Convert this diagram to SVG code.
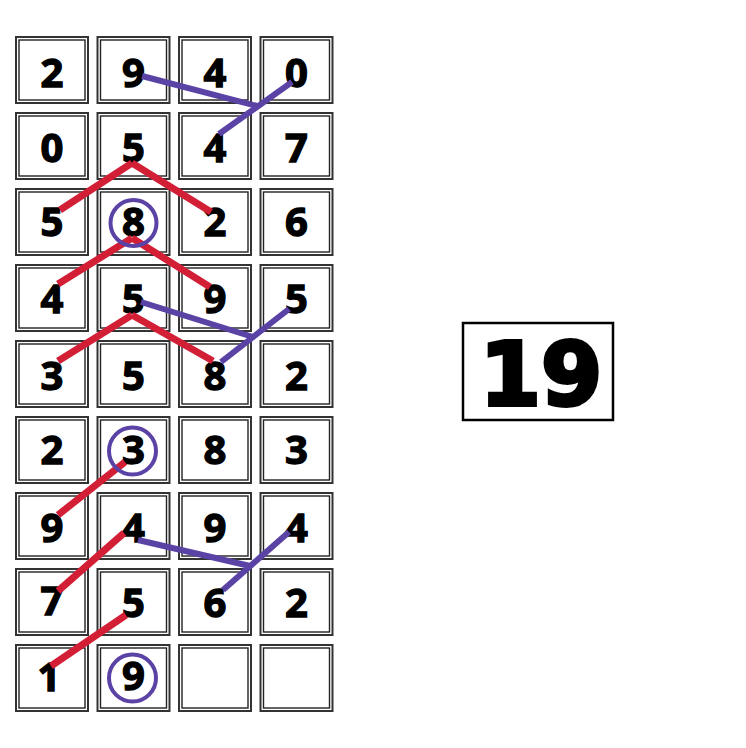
<svg xmlns="http://www.w3.org/2000/svg" xmlns:xlink="http://www.w3.org/1999/xlink" width="746" height="748" viewBox="0 0 746 748">
<style>
.o{fill:#fff;stroke:#333;stroke-width:2}
.i{fill:none;stroke:#222;stroke-width:1.4}
.d{font-family:"Open Sans","Liberation Sans",sans-serif;font-weight:700;font-size:40px;fill:#000;stroke:#000;stroke-width:1.3;text-anchor:middle}
.r{stroke:#d21f36;stroke-width:7;stroke-linecap:butt;fill:none}
.p{stroke:#5b43a6;stroke-width:6;stroke-linecap:butt;fill:none}
.c{fill:none;stroke:#5b43a6;stroke-width:4}
.big{font-family:"DejaVu Sans","Liberation Sans",sans-serif;font-weight:900;font-size:88px;fill:#000;stroke:#000;stroke-width:4;text-anchor:middle}
</style>
<defs>
<g id="cb"><rect class="o" x="0" y="0" width="72" height="66"/><rect class="i" x="3" y="3" width="66" height="60"/></g>
</defs>
<rect width="746" height="748" fill="#fff"/>
<g id="grid">
<g id="r1c1"><use xlink:href="#cb" x="16" y="37"/><text class="d" x="52" y="87">2</text></g>
<g id="r1c2"><use xlink:href="#cb" x="97.5" y="37"/><text class="d" x="133.5" y="87">9</text></g>
<g id="r1c3"><use xlink:href="#cb" x="179" y="37"/><text class="d" x="215" y="87">4</text></g>
<g id="r1c4"><use xlink:href="#cb" x="260.5" y="37"/><text class="d" x="296.5" y="87">0</text></g>
<g id="r2c1"><use xlink:href="#cb" x="16" y="113"/><text class="d" x="52" y="162">0</text></g>
<g id="r2c2"><use xlink:href="#cb" x="97.5" y="113"/><text class="d" x="133.5" y="162">5</text></g>
<g id="r2c3"><use xlink:href="#cb" x="179" y="113"/><text class="d" x="215" y="162">4</text></g>
<g id="r2c4"><use xlink:href="#cb" x="260.5" y="113"/><text class="d" x="296.5" y="162">7</text></g>
<g id="r3c1"><use xlink:href="#cb" x="16" y="189"/><text class="d" x="52" y="236">5</text></g>
<g id="r3c2"><use xlink:href="#cb" x="97.5" y="189"/><text class="d" x="133.5" y="236">8</text></g>
<g id="r3c3"><use xlink:href="#cb" x="179" y="189"/><text class="d" x="215" y="236">2</text></g>
<g id="r3c4"><use xlink:href="#cb" x="260.5" y="189"/><text class="d" x="296.5" y="236">6</text></g>
<g id="r4c1"><use xlink:href="#cb" x="16" y="265"/><text class="d" x="52" y="313">4</text></g>
<g id="r4c2"><use xlink:href="#cb" x="97.5" y="265"/><text class="d" x="133.5" y="313">5</text></g>
<g id="r4c3"><use xlink:href="#cb" x="179" y="265"/><text class="d" x="215" y="313">9</text></g>
<g id="r4c4"><use xlink:href="#cb" x="260.5" y="265"/><text class="d" x="296.5" y="313">5</text></g>
<g id="r5c1"><use xlink:href="#cb" x="16" y="341"/><text class="d" x="52" y="390">3</text></g>
<g id="r5c2"><use xlink:href="#cb" x="97.5" y="341"/><text class="d" x="133.5" y="390">5</text></g>
<g id="r5c3"><use xlink:href="#cb" x="179" y="341"/><text class="d" x="215" y="390">8</text></g>
<g id="r5c4"><use xlink:href="#cb" x="260.5" y="341"/><text class="d" x="296.5" y="390">2</text></g>
<g id="r6c1"><use xlink:href="#cb" x="16" y="417"/><text class="d" x="52" y="464">2</text></g>
<g id="r6c2"><use xlink:href="#cb" x="97.5" y="417"/><text class="d" x="133.5" y="464">3</text></g>
<g id="r6c3"><use xlink:href="#cb" x="179" y="417"/><text class="d" x="215" y="464">8</text></g>
<g id="r6c4"><use xlink:href="#cb" x="260.5" y="417"/><text class="d" x="296.5" y="464">3</text></g>
<g id="r7c1"><use xlink:href="#cb" x="16" y="493"/><text class="d" x="52" y="542">9</text></g>
<g id="r7c2"><use xlink:href="#cb" x="97.5" y="493"/><text class="d" x="133.5" y="542">4</text></g>
<g id="r7c3"><use xlink:href="#cb" x="179" y="493"/><text class="d" x="215" y="542">9</text></g>
<g id="r7c4"><use xlink:href="#cb" x="260.5" y="493"/><text class="d" x="296.5" y="542">4</text></g>
<g id="r8c1"><use xlink:href="#cb" x="16" y="569"/><text class="d" x="52" y="615">7</text></g>
<g id="r8c2"><use xlink:href="#cb" x="97.5" y="569"/><text class="d" x="133.5" y="617">5</text></g>
<g id="r8c3"><use xlink:href="#cb" x="179" y="569"/><text class="d" x="215" y="617">6</text></g>
<g id="r8c4"><use xlink:href="#cb" x="260.5" y="569"/><text class="d" x="296.5" y="617">2</text></g>
<g id="r9c1"><use xlink:href="#cb" x="16" y="645"/><text class="d" x="49" y="691">1</text></g>
<g id="r9c2"><use xlink:href="#cb" x="97.5" y="645"/><text class="d" x="133.5" y="690">9</text></g>
<g id="r9c3"><use xlink:href="#cb" x="179" y="645"/></g>
<g id="r9c4"><use xlink:href="#cb" x="260.5" y="645"/></g>
</g>
<g id="connectors">
<line class="p" x1="142" y1="76" x2="257" y2="106"/>
<line class="p" x1="292" y1="82" x2="219" y2="134"/>
<line class="r" x1="60" y1="210" x2="132" y2="163"/>
<line class="r" x1="132" y1="163" x2="211" y2="212"/>
<line class="r" x1="58" y1="284" x2="132" y2="238"/>
<line class="r" x1="132" y1="238" x2="210" y2="287"/>
<line class="r" x1="58" y1="361" x2="132" y2="315"/>
<line class="r" x1="132" y1="315" x2="213" y2="361"/>
<line class="p" x1="141" y1="302" x2="253" y2="337"/>
<line class="p" x1="289" y1="309" x2="221" y2="362"/>
<line class="r" x1="125" y1="462" x2="58" y2="515"/>
<line class="r" x1="124" y1="533" x2="58" y2="591"/>
<line class="p" x1="138" y1="540" x2="250" y2="566"/>
<line class="p" x1="289" y1="532" x2="223" y2="590"/>
<line class="r" x1="126" y1="615" x2="51" y2="666"/>
</g>
<g id="circles">
<circle class="c" cx="133.5" cy="223" r="23"/>
<circle class="c" cx="132.5" cy="451" r="23.5"/>
<circle class="c" cx="132.5" cy="678" r="23.5"/>
</g>
<g id="answer">
<rect x="463" y="323" width="150" height="97" fill="#fff" stroke="#000" stroke-width="2.5"/>
<text class="big" x="541" y="405">19</text>
</g>
</svg>
